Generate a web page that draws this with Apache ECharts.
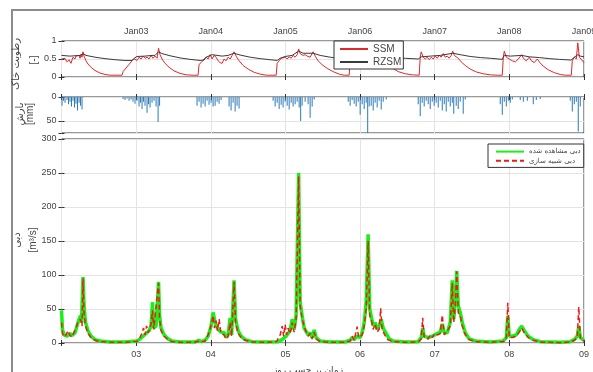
<!DOCTYPE html>
<html>
<head>
<meta charset="utf-8">
<script src="https://cdn.jsdelivr.net/npm/echarts@6/dist/echarts.min.js"></script>
<style>
html,body{margin:0;padding:0;background:#fff;}
#chart{width:593px;height:372px;}
</style>
</head>
<body>
<div id="chart"></div>
<script>
// time on every x axis: years since 1 Jan 2002 (0 .. 7)
const yearTicks = [0, 1, 2, 3, 4, 5, 6, 7]

// surface soil moisture [-]
const ssm = [
	[0.000,0.50],[0.020,0.45],[0.047,0.52],[0.074,0.42],[0.101,0.48],[0.127,0.38],[0.154,0.55],[0.181,0.50],
	[0.194,0.58],[0.208,0.55],[0.235,0.60],[0.248,0.52],[0.261,0.62],[0.275,0.55],[0.288,0.70],[0.302,0.58],
	[0.328,0.45],[0.355,0.36],[0.395,0.27],[0.449,0.18],[0.516,0.11],[0.583,0.07],[0.650,0.05],[0.811,0.05],
	[0.825,0.15],[0.865,0.25],[0.905,0.35],[0.945,0.45],[0.972,0.50],[1.012,0.46],[1.039,0.55],[1.066,0.50],
	[1.092,0.58],[1.119,0.52],[1.146,0.55],[1.173,0.50],[1.199,0.60],[1.226,0.52],[1.253,0.58],[1.280,0.52],
	[1.300,0.80],[1.320,0.62],[1.347,0.50],[1.387,0.38],[1.441,0.27],[1.508,0.17],[1.588,0.10],[1.669,0.06],
	[1.763,0.05],[1.830,0.05],[1.843,0.35],[1.870,0.40],[1.910,0.50],[1.937,0.55],[1.964,0.50],[1.991,0.62],
	[2.018,0.50],[2.044,0.60],[2.071,0.55],[2.098,0.45],[2.125,0.40],[2.152,0.38],[2.178,0.50],[2.205,0.45],
	[2.232,0.55],[2.259,0.50],[2.286,0.60],[2.312,0.70],[2.339,0.58],[2.380,0.45],[2.433,0.32],[2.500,0.22],
	[2.581,0.13],[2.661,0.08],[2.742,0.05],[2.876,0.05],[2.889,0.38],[2.916,0.45],[2.943,0.52],[2.969,0.48],
	[2.996,0.55],[3.023,0.50],[3.050,0.56],[3.077,0.52],[3.103,0.60],[3.130,0.55],[3.157,0.62],[3.177,0.78],
	[3.197,0.65],[3.237,0.60],[3.264,0.62],[3.291,0.58],[3.331,0.55],[3.371,0.70],[3.398,0.58],[3.438,0.45],
	[3.492,0.34],[3.559,0.24],[3.639,0.15],[3.720,0.08],[3.787,0.05],[3.854,0.05],[3.867,0.45],[3.934,0.55],
	[4.001,0.60],[4.068,0.55],[4.108,0.70],[4.162,0.58],[4.216,0.62],[4.269,0.55],[4.310,0.50],[4.363,0.38],
	[4.430,0.25],[4.511,0.15],[4.605,0.09],[4.699,0.06],[4.792,0.05],[4.806,0.55],[4.819,0.70],[4.846,0.55],
	[4.873,0.50],[4.900,0.55],[4.926,0.48],[4.953,0.55],[4.980,0.50],[5.007,0.58],[5.034,0.52],[5.060,0.60],
	[5.087,0.55],[5.114,0.65],[5.141,0.55],[5.168,0.58],[5.194,0.52],[5.221,0.60],[5.241,0.72],[5.262,0.60],
	[5.288,0.65],[5.315,0.52],[5.355,0.42],[5.409,0.32],[5.476,0.22],[5.557,0.14],[5.650,0.09],[5.744,0.06],
	[5.838,0.05],[5.905,0.05],[5.919,0.55],[5.932,0.72],[5.959,0.55],[5.999,0.50],[6.039,0.45],[6.080,0.42],
	[6.120,0.50],[6.166,0.62],[6.187,0.52],[6.227,0.45],[6.267,0.55],[6.294,0.45],[6.334,0.40],[6.374,0.50],
	[6.401,0.42],[6.455,0.30],[6.522,0.20],[6.602,0.12],[6.682,0.07],[6.749,0.05],[6.830,0.05],[6.843,0.45],
	[6.870,0.55],[6.897,0.50],[6.917,0.95],[6.937,0.55],[6.963,0.50],[7.000,0.40]
]

// root zone soil moisture [-]
const rzsm = [
	[0.000,0.60],[0.114,0.58],[0.248,0.60],[0.288,0.65],[0.328,0.60],[0.449,0.55],[0.583,0.51],[0.717,0.48],
	[0.851,0.46],[0.945,0.46],[0.972,0.52],[1.012,0.57],[1.119,0.58],[1.213,0.60],[1.253,0.60],[1.300,0.70],
	[1.347,0.65],[1.454,0.59],[1.588,0.53],[1.723,0.49],[1.857,0.46],[1.910,0.47],[1.937,0.55],[2.018,0.62],
	[2.152,0.58],[2.232,0.60],[2.312,0.66],[2.393,0.61],[2.527,0.55],[2.661,0.51],[2.795,0.48],[2.889,0.46],
	[2.929,0.52],[2.996,0.57],[3.090,0.60],[3.177,0.72],[3.237,0.66],[3.371,0.66],[3.465,0.60],[3.599,0.55],
	[3.733,0.51],[3.854,0.48],[3.894,0.55],[4.001,0.60],[4.108,0.65],[4.202,0.62],[4.337,0.57],[4.471,0.54],
	[4.605,0.52],[4.779,0.50],[4.819,0.56],[4.940,0.58],[5.074,0.60],[5.241,0.66],[5.342,0.62],[5.476,0.57],
	[5.610,0.54],[5.744,0.52],[5.905,0.49],[5.932,0.60],[6.012,0.58],[6.166,0.60],[6.267,0.56],[6.401,0.54],
	[6.535,0.51],[6.669,0.49],[6.830,0.47],[6.857,0.53],[6.917,0.62],[6.951,0.58],[7.000,0.56]
]

// precipitation [mm]
const rain = [
	[0.007,18],[0.027,8],[0.047,12],[0.074,6],[0.094,15],[0.114,10],[0.134,20],[0.154,8],[0.174,22],[0.194,14],
	[0.214,28],[0.235,12],[0.255,18],[0.275,26],
	[0.825,4],[0.851,6],[0.878,3],[0.905,8],[0.932,5],[0.958,10],[0.985,14],[1.012,8],[1.039,20],[1.059,12],
	[1.079,25],[1.099,10],[1.119,18],[1.146,33],[1.166,15],[1.186,22],[1.213,12],[1.240,8],[1.267,20],[1.294,52],
	[1.314,18],
	[1.816,18],[1.843,10],[1.870,22],[1.897,14],[1.924,20],[1.950,8],[1.977,16],[2.004,12],[2.031,20],[2.058,18],
	[2.085,10],[2.111,14],[2.138,6],[2.245,20],[2.272,28],[2.299,12],[2.326,30],[2.352,18],[2.379,24],
	[2.835,8],[2.862,20],[2.889,12],[2.916,25],[2.943,16],[2.969,22],[2.996,10],[3.023,18],[3.050,26],[3.077,12],
	[3.103,20],[3.130,15],[3.157,10],[3.184,22],[3.204,50],[3.224,18],[3.264,10],[3.304,15],[3.331,43],[3.358,20],
	[3.385,5],
	[3.841,10],[3.867,18],[3.894,6],[3.921,14],[3.948,20],[3.975,10],[4.001,37],[4.028,15],[4.055,25],[4.082,12],
	[4.102,75],[4.122,20],[4.149,18],[4.176,28],[4.202,12],[4.229,22],[4.256,8],[4.283,26],[4.310,10],[4.350,5],
	[4.779,15],[4.806,40],[4.832,12],[4.859,20],[4.886,8],[4.913,15],[4.940,25],[4.967,10],[4.993,18],[5.020,12],
	[5.047,22],[5.074,8],[5.101,28],[5.128,15],[5.154,30],[5.181,10],[5.208,20],[5.235,12],[5.255,35],[5.288,18],
	[5.315,25],[5.342,10],[5.382,35],[5.409,5],
	[5.878,15],[5.905,37],[5.932,10],[5.959,20],[5.986,8],[6.012,12],[6.039,5],[6.146,6],[6.187,10],[6.241,8],
	[6.320,15],[6.361,6],[6.414,4],
	[6.816,8],[6.843,30],[6.870,15],[6.897,10],[6.923,72],[6.950,20]
]

// observed discharge [m3/s]
const qObs = [
	[0.000,48],[0.013,20],[0.034,12],[0.074,10],[0.114,14],[0.141,11],[0.181,15],[0.208,25],[0.235,35],[0.255,40],
	[0.268,30],[0.288,97],[0.302,55],[0.322,30],[0.355,18],[0.395,10],[0.449,5],[0.516,3],[0.650,1.5],[0.851,1.5],
	[0.958,2.5],[1.012,3],[1.052,6],[1.092,10],[1.133,14],[1.173,18],[1.199,25],[1.220,60],[1.233,22],[1.267,25],
	[1.300,90],[1.314,40],[1.334,22],[1.374,12],[1.428,6],[1.481,3],[1.588,1.5],[1.790,1.5],[1.843,4],[1.870,2],
	[1.924,4],[1.964,10],[2.004,25],[2.031,45],[2.058,30],[2.098,20],[2.138,16],[2.178,15],[2.205,8],[2.232,12],
	[2.259,37],[2.279,12],[2.312,92],[2.332,35],[2.366,18],[2.406,10],[2.460,5],[2.554,2],[2.728,1.5],[2.902,2],
	[2.956,5],[3.009,10],[3.063,18],[3.090,35],[3.117,20],[3.143,40],[3.177,250],[3.197,60],[3.224,40],[3.251,22],
	[3.277,20],[3.304,12],[3.331,15],[3.358,8],[3.385,19],[3.412,8],[3.465,3],[3.599,1.5],[3.800,1.5],[3.867,4],
	[3.894,8],[3.921,5],[3.961,10],[4.001,8],[4.028,15],[4.055,30],[4.082,60],[4.108,160],[4.129,50],[4.149,40],
	[4.176,25],[4.202,30],[4.229,20],[4.256,25],[4.283,35],[4.310,22],[4.350,14],[4.390,6],[4.444,3],[4.605,1.5],
	[4.779,2],[4.819,8],[4.839,22],[4.859,10],[4.913,8],[4.967,10],[5.020,13],[5.074,16],[5.101,28],[5.128,15],
	[5.168,15],[5.208,30],[5.235,92],[5.255,35],[5.275,60],[5.295,106],[5.315,55],[5.342,45],[5.369,30],[5.409,15],
	[5.463,6],[5.543,3],[5.744,1.5],[5.919,3],[5.959,8],[5.979,40],[5.999,10],[6.039,10],[6.093,12],[6.133,20],
	[6.166,25],[6.200,18],[6.253,10],[6.320,5],[6.414,2],[6.682,1],[6.816,2],[6.870,5],[6.910,10],[6.930,25],
	[6.951,8],[7.000,4]
]

// simulated discharge [m3/s]
const qSim = [
	[0.000,30],[0.013,14],[0.034,9],[0.060,12],[0.087,18],[0.114,11],[0.141,9],[0.168,16],[0.195,22],[0.215,30],
	[0.235,28],[0.255,35],[0.275,25],[0.288,95],[0.302,45],[0.322,25],[0.355,14],[0.395,8],[0.449,4],[0.516,2],
	[0.650,1],[0.851,1],[0.958,2],[1.012,2.5],[1.052,8],[1.079,15],[1.099,22],[1.119,12],[1.140,25],[1.160,15],
	[1.180,20],[1.200,28],[1.220,48],[1.235,20],[1.260,22],[1.300,88],[1.314,35],[1.334,18],[1.374,10],[1.428,5],
	[1.481,2],[1.588,1],[1.790,1],[1.843,3],[1.870,1.5],[1.924,3],[1.964,12],[1.990,20],[2.031,40],[2.050,22],
	[2.070,33],[2.090,18],[2.112,35],[2.135,14],[2.178,12],[2.205,6],[2.232,10],[2.259,30],[2.279,10],[2.312,90],
	[2.332,30],[2.366,14],[2.406,8],[2.460,4],[2.554,1.5],[2.728,1],[2.880,2],[2.930,12],[2.956,25],[2.976,10],
	[2.996,27],[3.016,12],[3.036,22],[3.056,14],[3.076,20],[3.090,30],[3.117,16],[3.143,35],[3.177,245],[3.197,55],
	[3.224,35],[3.251,25],[3.277,16],[3.304,10],[3.331,14],[3.358,6],[3.385,16],[3.412,6],[3.465,2],[3.599,1],
	[3.800,1],[3.867,3],[3.894,10],[3.921,4],[3.961,24],[3.981,8],[4.001,6],[4.028,12],[4.055,25],[4.082,50],
	[4.108,150],[4.129,40],[4.149,35],[4.176,20],[4.202,28],[4.229,16],[4.256,20],[4.276,51],[4.295,20],[4.330,12],
	[4.370,5],[4.444,2],[4.605,1],[4.779,1.5],[4.819,6],[4.839,37],[4.859,8],[4.913,6],[4.940,12],[4.967,8],
	[5.000,14],[5.040,12],[5.074,14],[5.101,41],[5.128,12],[5.168,18],[5.208,25],[5.235,88],[5.255,30],[5.275,55],
	[5.295,105],[5.315,45],[5.342,40],[5.369,25],[5.409,12],[5.463,5],[5.543,2],[5.744,1],[5.919,2],[5.959,6],
	[5.979,59],[5.999,8],[6.039,8],[6.093,10],[6.133,16],[6.166,22],[6.200,15],[6.253,8],[6.320,4],[6.414,1.5],
	[6.682,0.5],[6.816,1.5],[6.870,4],[6.910,8],[6.930,53],[6.951,6],[7.000,3]
]

const obsName = 'دبی مشاهده شده'
const simName = 'دبی شبیه سازی'

const txt = '#444'
const frame = '#333'
const gridCol = '#e4e4e4'
const fa = 'DejaVu Sans'
const noSymbol = {color: 'rgba(0,0,0,0)', borderColor: 'rgba(0,0,0,0)', borderWidth: 0, opacity: 0}

function yearLabel(v, prefix){
	if(v === 0) return ''
	return prefix + String(2002 + v).slice(2)
}

function xAxis(grid, pos, fmt, margin){
	return {
		type: 'value', gridIndex: grid, position: pos,
		min: yearTicks[0], max: yearTicks[yearTicks.length-1], interval: 1,
		axisLine: {show: false},
		axisTick: {show: true, inside: true, length: 3, lineStyle: {color: frame}},
		splitLine: {show: !!fmt || pos === 'bottom', lineStyle: {color: gridCol}},
		axisLabel: {show: !!fmt, formatter: fmt, fontSize: 9, color: txt, margin: margin || 6,
			fontFamily: 'Liberation Sans', showMinLabel: true, showMaxLabel: true}
	}
}

function yAxis(grid, pos, min, max, interval, labels, extra){
	return Object.assign({
		type: 'value', gridIndex: grid, position: pos, min: min, max: max, interval: interval,
		axisLine: {show: false},
		axisTick: {show: true, inside: true, length: 3, lineStyle: {color: frame}},
		splitLine: {show: pos === 'left', lineStyle: {color: gridCol}},
		axisLabel: {show: !!labels, fontSize: 9, color: txt, margin: 5, fontFamily: 'Liberation Sans',
			formatter: labels ? (v => labels.indexOf(v) >= 0 ? String(v) : '') : undefined}
	}, extra || {})
}

function vText(x, y, text, size, family){
	return {
		type: 'text', x: x, y: y, rotation: Math.PI / 2,
		style: {text: text, fill: txt, font: size + 'px "' + family + '"', align: 'center', verticalAlign: 'middle'}
	}
}

const chart = echarts.init(document.getElementById('chart'), null, {renderer: 'canvas'})

const gridBase = {left: 61.5, right: 9, show: true, borderColor: frame, borderWidth: 1, outerBoundsMode: 'none', containLabel: false}

chart.setOption({
	backgroundColor: '#fff',
	animation: false,
	grid: [
		Object.assign({top: 41, height: 36}, gridBase),
		Object.assign({top: 97, height: 36}, gridBase),
		Object.assign({top: 139, height: 204}, gridBase)
	],
	xAxis: [
		xAxis(0, 'top', v => yearLabel(v, 'Jan'), 5),
		xAxis(0, 'bottom', null),
		xAxis(1, 'bottom', null),
		xAxis(1, 'top', null),
		xAxis(2, 'bottom', v => yearLabel(v, ''), 7),
		xAxis(2, 'top', null)
	],
	yAxis: [
		yAxis(0, 'left', 0, 1, 0.5, [0, 0.5, 1]),
		yAxis(0, 'right', 0, 1, 0.5, null),
		yAxis(1, 'left', 0, 75, 50, [0, 50], {inverse: true}),
		yAxis(1, 'right', 0, 75, 50, null, {inverse: true}),
		yAxis(2, 'left', 0, 300, 50, [0, 50, 100, 150, 200, 250, 300]),
		yAxis(2, 'right', 0, 300, 50, null)
	],
	legend: [
		{
			data: ['SSM', 'RZSM'], orient: 'vertical', left: 334, top: 41,
			padding: [3, 2, 2, 5], itemWidth: 28, itemHeight: 10, itemGap: 3,
			backgroundColor: '#fff', borderColor: frame, borderWidth: 1,
			itemStyle: noSymbol,
			textStyle: {fontSize: 10, color: txt, fontFamily: 'Liberation Sans'}
		},
		{
			data: [obsName, simName], orient: 'vertical', left: 488, top: 144,
			padding: [4, 3, 3, 7], itemWidth: 28, itemHeight: 9, itemGap: 2,
			backgroundColor: '#fff', borderColor: frame, borderWidth: 1,
			itemStyle: noSymbol,
			textStyle: {fontSize: 7, color: txt, fontFamily: fa}
		}
	],
	series: [
		{
			name: 'SSM', type: 'line', xAxisIndex: 0, yAxisIndex: 0, data: ssm,
			showSymbol: false, symbol: 'none', lineStyle: {color: '#e3262b', width: 1}, itemStyle: {color: '#e3262b'}
		},
		{
			name: 'RZSM', type: 'line', xAxisIndex: 0, yAxisIndex: 0, data: rzsm,
			showSymbol: false, symbol: 'none', lineStyle: {color: '#3a3a3a', width: 1}, itemStyle: {color: '#3a3a3a'}
		},
		{
			name: 'rain', type: 'bar', xAxisIndex: 2, yAxisIndex: 2, data: rain,
			barWidth: 1, itemStyle: {color: '#2a7ab8'}
		},
		{
			name: obsName, type: 'line', xAxisIndex: 4, yAxisIndex: 4, data: qObs,
			showSymbol: false, symbol: 'none', lineStyle: {color: '#19f019', width: 3.5}, itemStyle: {color: '#19f019'}
		},
		{
			name: simName, type: 'line', xAxisIndex: 4, yAxisIndex: 4, data: qSim,
			showSymbol: false, symbol: 'none',
			lineStyle: {color: '#f01818', width: 1.5, type: [5, 3]}, itemStyle: {color: '#f01818'}
		}
	],
	graphic: [
		{type: 'rect', shape: {x: 12, y: 10, width: 600, height: 400}, style: {fill: null, stroke: '#8c8c8c', lineWidth: 2}, silent: true},
		vText(16, 64, 'رطوبت خاک', 10, fa),
		vText(34, 60, '[-]', 10, 'Liberation Sans'),
		vText(20, 114, 'بارش', 10, fa),
		vText(30, 114, '[mm]', 10, 'Liberation Sans'),
		vText(17, 240, 'دبی', 10, fa),
		vText(33, 240, '[m³/s]', 10, 'Liberation Sans'),
		{
			type: 'text', x: 308, y: 366,
			style: {text: 'زمان بر حسب روز', fill: txt, font: '9px "DejaVu Sans"', align: 'center', verticalAlign: 'top'}
		}
	]
})
</script>
</body>
</html>
